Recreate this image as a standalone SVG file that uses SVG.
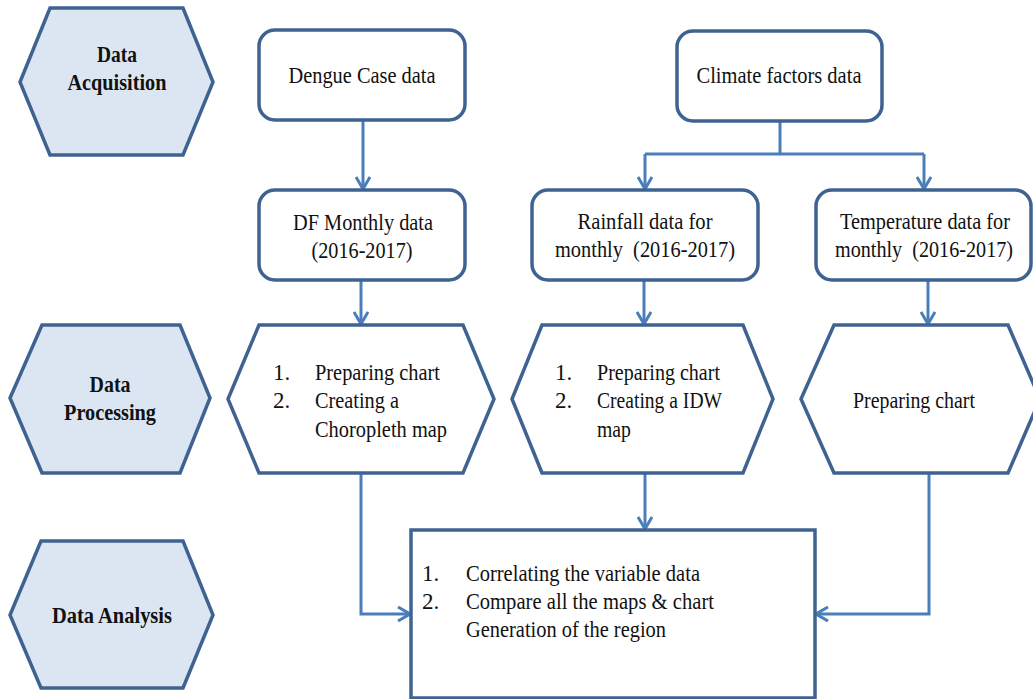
<svg xmlns="http://www.w3.org/2000/svg" width="1033" height="699" viewBox="0 0 1033 699">
<defs>
<style>
.lbl{fill:#dce6f2;stroke:#3f6391;stroke-width:3.5;stroke-linejoin:miter}
.nd{fill:#ffffff;stroke:#3f6391;stroke-width:3.5}
.cn{fill:none;stroke:#4a7ebb;stroke-width:3}
text{font-family:"Liberation Serif","Times New Roman",serif;font-size:23px;fill:#111111}
.b{font-weight:bold}
.m{text-anchor:middle}
</style>
<marker id="ah" viewBox="0 0 14 16" refX="13" refY="8" markerWidth="14" markerHeight="16" markerUnits="userSpaceOnUse" orient="auto">
<path d="M1,1 L13,8 L1,15" fill="none" stroke="#4a7ebb" stroke-width="3"/>
</marker>
</defs>
<rect width="1033" height="699" fill="#ffffff"/>

<g id="connectors">
<path class="cn" d="M363,120 V189" marker-end="url(#ah)"/>
<path class="cn" d="M780,121 V154 M645,154 H924" />
<path class="cn" d="M645,154 V189" marker-end="url(#ah)"/>
<path class="cn" d="M924,154 V189" marker-end="url(#ah)"/>
<path class="cn" d="M361,280 V324" marker-end="url(#ah)"/>
<path class="cn" d="M644,280 V324" marker-end="url(#ah)"/>
<path class="cn" d="M928,280 V324" marker-end="url(#ah)"/>
<path class="cn" d="M361,473 V614 H410" marker-end="url(#ah)"/>
<path class="cn" d="M645,473 V529" marker-end="url(#ah)"/>
<path class="cn" d="M929,473 V614 H816" marker-end="url(#ah)"/>
</g>

<g id="label-acquisition">
<polygon class="lbl" points="50,8 183,8 213,82 183,155 50,155 20,82"/>
<text class="b m" x="117" y="62" textLength="40" lengthAdjust="spacingAndGlyphs">Data</text>
<text class="b m" x="117" y="90" textLength="99" lengthAdjust="spacingAndGlyphs">Acquisition</text>
</g>

<g id="label-processing">
<polygon class="lbl" points="42,325 180,325 210,398 180,473 42,473 10,398"/>
<text class="b m" x="110" y="392" textLength="41" lengthAdjust="spacingAndGlyphs">Data</text>
<text class="b m" x="110" y="420" textLength="92" lengthAdjust="spacingAndGlyphs">Processing</text>
</g>

<g id="label-analysis">
<polygon class="lbl" points="41,541 183,541 213,615 183,688 41,688 10,615"/>
<text class="b m" x="112" y="623" textLength="120" lengthAdjust="spacingAndGlyphs">Data Analysis</text>
</g>

<g id="dengue-case">
<rect class="nd" x="259" y="30" width="206" height="90" rx="16"/>
<text class="m" x="362" y="83" textLength="147" lengthAdjust="spacingAndGlyphs">Dengue Case data</text>
</g>

<g id="climate-factors">
<rect class="nd" x="677" y="31" width="205" height="90" rx="16"/>
<text class="m" x="779" y="83" textLength="165" lengthAdjust="spacingAndGlyphs">Climate factors data</text>
</g>

<g id="df-monthly">
<rect class="nd" x="259" y="190" width="206" height="90" rx="16"/>
<text class="m" x="363" y="230" textLength="140" lengthAdjust="spacingAndGlyphs">DF Monthly data</text>
<text class="m" x="362" y="258" textLength="101" lengthAdjust="spacingAndGlyphs">(2016-2017)</text>
</g>

<g id="rainfall-data">
<rect class="nd" x="532" y="190" width="226" height="90" rx="16"/>
<text class="m" x="645" y="229" textLength="135" lengthAdjust="spacingAndGlyphs">Rainfall data for</text>
<text class="m" x="645" y="257" textLength="180" lengthAdjust="spacingAndGlyphs" xml:space="preserve">monthly  (2016-2017)</text>
</g>

<g id="temperature-data">
<rect class="nd" x="816" y="190" width="215" height="90" rx="16"/>
<text class="m" x="925" y="229" textLength="170" lengthAdjust="spacingAndGlyphs">Temperature data for</text>
<text class="m" x="924" y="257" textLength="178" lengthAdjust="spacingAndGlyphs" xml:space="preserve">monthly  (2016-2017)</text>
</g>

<g id="process-choropleth">
<polygon class="nd" points="259,325 463,325 494,399 463,473 259,473 228,399"/>
<text x="273" y="380">1.</text>
<text x="315" y="380" textLength="125" lengthAdjust="spacingAndGlyphs">Preparing chart</text>
<text x="273" y="408">2.</text>
<text x="315" y="408" textLength="84" lengthAdjust="spacingAndGlyphs">Creating a</text>
<text x="315" y="437" textLength="132" lengthAdjust="spacingAndGlyphs">Choropleth map</text>
</g>

<g id="process-idw">
<polygon class="nd" points="542,325 743,325 773,399 743,473 542,473 512,399"/>
<text x="555" y="380">1.</text>
<text x="597" y="380" textLength="123" lengthAdjust="spacingAndGlyphs">Preparing chart</text>
<text x="555" y="408">2.</text>
<text x="597" y="408" textLength="125" lengthAdjust="spacingAndGlyphs">Creating a IDW</text>
<text x="597" y="437" textLength="34" lengthAdjust="spacingAndGlyphs">map</text>
</g>

<g id="process-temperature">
<polygon class="nd" points="834,325 1008,325 1040,399 1008,473 834,473 801,399"/>
<text class="m" x="914" y="408" textLength="122" lengthAdjust="spacingAndGlyphs">Preparing chart</text>
</g>

<g id="analysis">
<rect class="nd" x="411" y="530" width="404" height="168"/>
<text x="422" y="581">1.</text>
<text x="466" y="581" textLength="234" lengthAdjust="spacingAndGlyphs">Correlating the variable data</text>
<text x="422" y="609">2.</text>
<text x="466" y="609" textLength="248" lengthAdjust="spacingAndGlyphs">Compare all the maps &amp; chart</text>
<text x="466" y="637" textLength="200" lengthAdjust="spacingAndGlyphs">Generation of the region</text>
</g>
</svg>
